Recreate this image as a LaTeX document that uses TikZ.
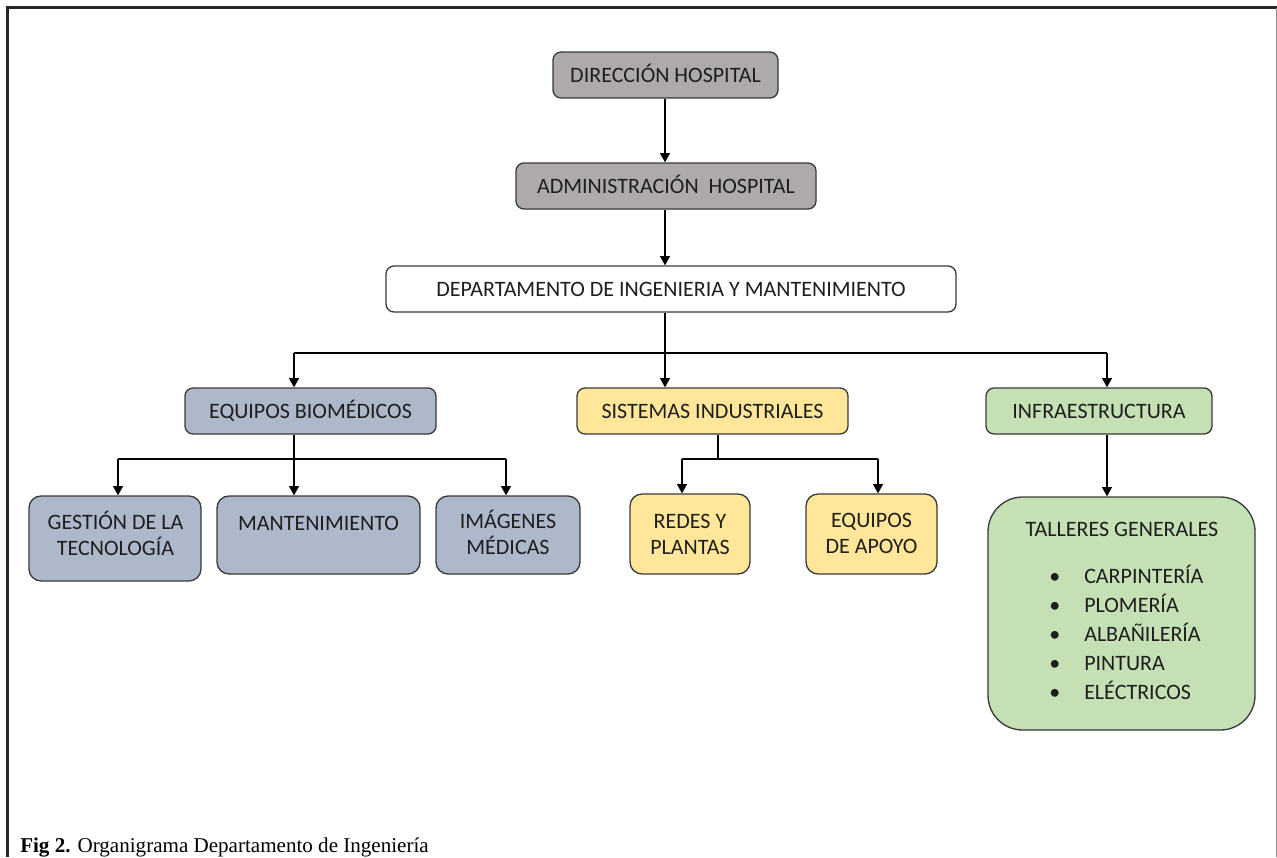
\documentclass[tikz,border=0pt]{standalone}
\usepackage{fontspec}
\setmainfont{Carlito}
\newfontfamily\capfont{Liberation Serif}
\usetikzlibrary{arrows.meta}
\definecolor{boxgray}{HTML}{AEAAAA}
\definecolor{bblue}{HTML}{ADB9CA}
\definecolor{byellow}{HTML}{FFE699}
\definecolor{bgreen}{HTML}{C5E0B4}
\definecolor{edge}{HTML}{3A3A3A}
\definecolor{txt}{HTML}{1E1E1E}
\begin{document}
\begin{tikzpicture}[x=0.75pt,y=-0.75pt,
  sz/.style 2 args={minimum width={#1*0.75pt}, minimum height={#2*0.75pt}},
  box/.style={draw=edge,line width=1pt,rounded corners=6pt,inner sep=0pt,
    font=\fontsize{16.5}{19.5}\selectfont,text=txt,text height=10.6pt,text depth=0pt},
  lbl/.style={font=\fontsize{16.5}{19.5}\selectfont,text=txt,align=center,inner sep=0pt},
  conn/.style={line width=1.1pt,black},
  arr/.style={conn,-{Triangle[width=7.5pt,length=7pt]}},
  frame/.style={line width=1.9pt,black!85}]
\useasboundingbox (0,0) rectangle (1277,857);
% frame
\draw[frame] (7.5,857) -- (7.5,7.5) -- (1277,7.5);
\draw[line width=0.8pt,black!45] (1276.4,7.5) -- (1276.4,857);

% top levels
\node[box,fill=boxgray,sz={225}{46}] (dir) at (665.5,75) {DIRECCIÓN HOSPITAL};
\node[box,fill=boxgray,sz={300}{46}] (adm) at (666,186) {ADMINISTRACIÓN\ \ HOSPITAL};
\node[box,fill=white,sz={570}{46}] (dept) at (671,289) {DEPARTAMENTO DE INGENIERIA Y MANTENIMIENTO};

% second level
\node[box,fill=bblue,sz={251}{46}] (bio) at (310.5,411) {EQUIPOS BIOMÉDICOS};
\node[box,fill=byellow,sz={271}{46}] (sis) at (712.5,411) {SISTEMAS INDUSTRIALES};
\node[box,fill=bgreen,sz={226}{46}] (inf) at (1099,411) {INFRAESTRUCTURA};

% third level (base anchor = baseline of last line)
\node[box,fill=bblue,rounded corners=9pt,sz={172}{85}] (ges) at (115,538.5) {};
\node[lbl,anchor=base] (gest) at (115.5,555) {GESTIÓN DE LA\\TECNOLOGÍA};
\node[box,fill=bblue,rounded corners=9pt,sz={203}{78}] (man) at (318.5,535) {};
\node[lbl,anchor=base] (mant) at (318.5,530) {MANTENIMIENTO};
\node[box,fill=bblue,rounded corners=9pt,sz={144}{78}] (img) at (508,535) {};
\node[lbl,anchor=base] (imgt) at (508,554) {IMÁGENES\\MÉDICAS};
\node[box,fill=byellow,rounded corners=9pt,sz={120}{80}] (red) at (690,534) {};
\node[lbl,anchor=base] (redt) at (690,554) {REDES Y\\PLANTAS};
\node[box,fill=byellow,rounded corners=9pt,sz={131}{80}] (apo) at (871.5,534) {};
\node[lbl,anchor=base] (apot) at (871.5,553) {EQUIPOS\\DE APOYO};
\node[box,fill=bgreen,rounded corners=26pt,sz={267}{233}] (tal) at (1121.5,613.5) {};
\node[lbl,anchor=base] (talt) at (1122,536) {TALLERES GENERALES};
\node[lbl,align=left,anchor=base west,font=\fontsize{16.5}{21.75}\selectfont] (tall) at (1049,699)
  {\makebox[26.25pt][l]{\textbullet}CARPINTERÍA\\
   \makebox[26.25pt][l]{\textbullet}PLOMERÍA\\
   \makebox[26.25pt][l]{\textbullet}ALBAÑILERÍA\\
   \makebox[26.25pt][l]{\textbullet}PINTURA\\
   \makebox[26.25pt][l]{\textbullet}ELÉCTRICOS};

% connectors
\coordinate (j0) at (665,353);
\coordinate (jb) at (294,353);
\coordinate (ji) at (1107,353);
\coordinate (kb) at (294,459);
\coordinate (k1) at (118,459);
\coordinate (k3) at (506,459);
\coordinate (ks) at (718,459);
\coordinate (kr) at (682,459);
\coordinate (ka) at (878,459);

\draw[arr] (dir.south -| j0) -- (j0 |- adm.north);
\draw[arr] (adm.south -| j0) -- (j0 |- dept.north);
\draw[arr] (j0 |- dept.south) -- (j0 |- sis.north);
\draw[conn] (jb) -- (ji);
\draw[arr] (jb) -- (jb |- bio.north);
\draw[arr] (ji) -- (ji |- inf.north);

\draw[conn] (kb |- bio.south) -- (kb);
\draw[conn] (k1) -- (k3);
\draw[arr] (k1) -- (k1 |- ges.north);
\draw[arr] (kb) -- (kb |- man.north);
\draw[arr] (k3) -- (k3 |- img.north);

\draw[conn] (ks |- sis.south) -- (ks);
\draw[conn] (kr) -- (ka);
\draw[arr] (kr) -- (kr |- red.north);
\draw[arr] (ka) -- (ka |- apo.north);

\draw[arr] (ji |- inf.south) -- (ji |- tal.north);

% caption
\node[anchor=base west,inner sep=0pt,font=\capfont\fontsize{15.8}{18}\selectfont] (cap) at (20,852)
  {\textbf{Fig 2.} Organigrama Departamento de Ingeniería};
\end{tikzpicture}
\end{document}
